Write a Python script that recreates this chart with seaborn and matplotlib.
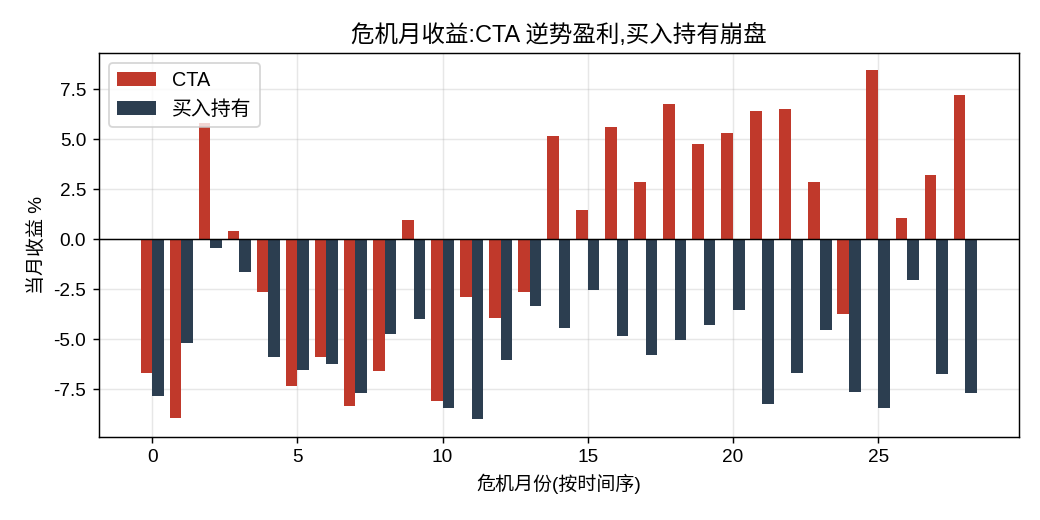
import numpy as np
import pandas as pd
import matplotlib
matplotlib.use("Agg")
import matplotlib.pyplot as plt
import seaborn as sns

months = list(range(29))
cta = [-6.70, -8.96, 5.79, 0.40, -2.63, -7.36, -5.87, -8.36, -6.57, 0.95,
       -8.11, -2.88, -3.92, -2.63, 5.14, 1.45, 5.59, 2.84, 6.73, 4.74,
       5.29, 6.38, 6.48, 2.84, -3.72, 8.43, 1.05, 3.19, 7.18]
buy_hold = [-7.86, -5.17, -0.43, -1.63, -5.87, -6.52, -6.22, -7.71, -4.72, -3.97,
            -8.46, -9.01, -6.02, -3.33, -4.46, -2.53, -4.82, -5.77, -5.02, -4.27,
            -3.52, -8.26, -6.67, -4.52, -7.66, -8.46, -2.03, -6.72, -7.71]
series_names = ["CTA", "买入持有"]
palette = {"CTA": "#c0392b", "买入持有": "#2c3e50"}

df = pd.concat([
    pd.DataFrame({"month": months, "ret": cta, "series": "CTA"}),
    pd.DataFrame({"month": months, "ret": buy_hold, "series": "买入持有"}),
])

plt.rcParams["font.family"] = ["Liberation Sans", "Noto Sans CJK SC", "DejaVu Sans"]
plt.rcParams["font.size"] = 10.5
plt.rcParams["axes.unicode_minus"] = False

fig, ax = plt.subplots(figsize=(8, 4), dpi=130)
sns.barplot(
    data=df, x="month", y="ret", hue="series", hue_order=series_names,
    palette=palette, native_scale=True, saturation=1, errorbar=None, ax=ax,
)
ax.axhline(0, color="black", linewidth=0.8)
ax.grid(True, alpha=0.3)
ax.set_axisbelow(True)
ax.set_title("危机月收益:CTA 逆势盈利,买入持有崩盘", fontsize=13)
ax.set_xlabel("危机月份(按时间序)")
ax.set_ylabel("当月收益 %")
ax.legend(loc="upper left", title=None, fontsize=11)
ax.set_xlim(-1.84, 29.86)
fig.subplots_adjust(left=0.095, right=0.98, top=0.898, bottom=0.16)
fig.savefig("out.png", dpi=130)
